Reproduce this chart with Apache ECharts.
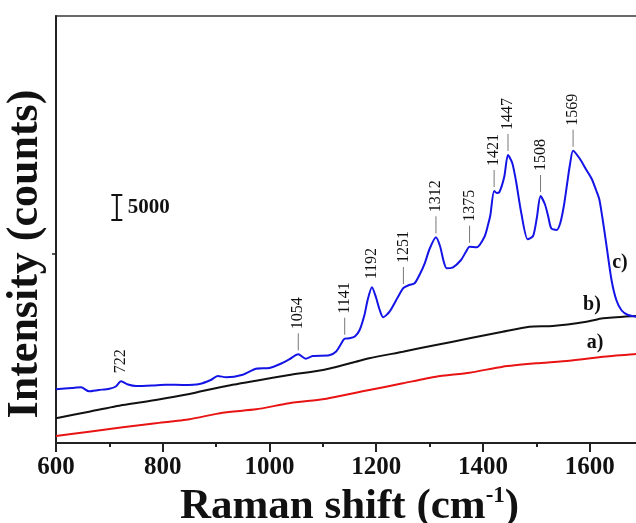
<!DOCTYPE html>
<html>
<head>
<meta charset="utf-8">
<script src="https://cdn.jsdelivr.net/npm/echarts@6/dist/echarts.min.js"></script>
<style>
  html, body { margin: 0; padding: 0; background: #fff; }
  #chart { width: 636px; height: 523px; }
</style>
</head>
<body>
<div id="chart"></div>
<script>
// Raman spectra: (a) red, (b) black, (c) blue with assigned bands
const seriesA = [
  [600,1400],[662,2260],[725,3140],[787,3940],[850,4740],[912,6060],[975,6740],
  [1037,7940],[1100,8740],[1125,9260],[1162,10060],[1187,10600],[1250,11940],
  [1312,13260],[1375,14060],[1437,15260],[1500,15940],[1562,16460],[1625,17260],
  [1687,17800],[1700,17900]
];
const seriesB = [
  [600,4940],[662,6260],[725,7600],[787,8600],[850,9800],[912,11260],[975,12460],
  [1037,13600],[1100,14600],[1162,16260],[1187,16940],[1250,18260],[1312,19600],
  [1375,20940],[1437,22260],[1487,23260],[1531,23400],[1594,24260],[1625,24940],
  [1687,25400],[1700,25450]
];
const seriesC = [
  [600,10740],[630,11000],[647,11140],[662,10340],[680,10600],[700,10860],[712,11300],
  [722,12340],[735,11700],[750,11400],[780,11500],[806,11660],[840,11600],[869,11800],
  [890,12600],[903,13400],[919,13140],[950,13660],[975,14860],[1000,15000],[1020,15800],
  [1037,16740],[1054,17740],[1068,16860],[1081,17400],[1112,17540],[1125,18300],
  [1134,19800],[1141,20860],[1150,20940],[1160,21300],[1169,22600],[1178,25600],
  [1184,28600],[1192,31140],[1200,29000],[1206,26800],[1213,25140],[1225,26260],
  [1241,29260],[1251,31000],[1262,31600],[1272,31940],[1282,33800],[1291,35940],
  [1300,38800],[1312,41140],[1320,39260],[1326,36500],[1332,34940],[1344,35140],
  [1359,36600],[1368,38200],[1375,39260],[1388,39140],[1403,41260],[1410,43800],
  [1414,45600],[1421,50400],[1426,50000],[1431,50200],[1440,53260],[1447,57600],
  [1455,56000],[1462,52400],[1472,45940],[1484,40740],[1494,41400],[1501,45000],
  [1508,49400],[1516,47800],[1522,45500],[1528,42940],[1538,42600],[1545,44000],
  [1552,47600],[1558,52000],[1563,55600],[1569,58460],[1581,56940],[1594,54600],
  [1604,52800],[1612,50600],[1618,48800],[1624,45000],[1631,39940],[1641,32600],
  [1650,28600],[1660,26500],[1672,25600],[1688,25260],[1700,25200]
];

// Band positions marked on spectrum (c); whether each has a leader line
const peakBands = [722, 1054, 1141, 1192, 1251, 1312, 1375, 1421, 1447, 1508, 1569];
const peakLeader = [false, true, true, false, true, true, true, true, true, true, true];

// Axis ticks
const xMajorTicks = [600, 800, 1000, 1200, 1400, 1600];
const xMinorTicks = [700, 900, 1100, 1300, 1500];
const yTicks = [37800];

// Intensity scale bar (counts)
const scaleBarX = 714;
const scaleBarBase = 44600;
const scaleBarSize = 5000;

const SERIF = '"Liberation Serif", "Times New Roman", serif';

const lookupC = {};
seriesC.forEach(function (p) { lookupC[p[0]] = p[1]; });

const chart = echarts.init(document.getElementById('chart'), null, { renderer: 'canvas' });

const option = {
  backgroundColor: '#ffffff',
  animation: false,
  grid: {
    left: 56, top: 16, right: -7, bottom: 80,
    show: true, borderColor: '#3a3a3a', borderWidth: 1.5,
    containLabel: false, outerBoundsMode: 'none'
  },
  xAxis: [
    {
      type: 'value', min: 600, max: 1700, position: 'bottom',
      axisLine: { show: true, onZero: false, lineStyle: { color: '#222', width: 2 } },
      axisTick: { show: true, inside: false, length: 9, customValues: xMajorTicks,
                  lineStyle: { color: '#222', width: 2 } },
      axisLabel: { customValues: xMajorTicks, margin: 12, color: '#111',
                   fontFamily: SERIF, fontSize: 25, fontWeight: 'bold',
                   formatter: function (v) { return String(v); } },
      splitLine: { show: false },
      name: '{t|Raman shift (cm}{s|-1}{t|)}',
      nameLocation: 'middle', nameGap: 30,
      nameTextStyle: {
        rich: {
          t: { fontFamily: SERIF, fontSize: 43, fontWeight: 'bold', color: '#111' },
          s: { fontFamily: SERIF, fontSize: 23, fontWeight: 'bold', color: '#111', padding: [0, 0, 20, 0] }
        }
      }
    },
    {
      type: 'value', min: 600, max: 1700, position: 'bottom',
      axisLine: { show: false, onZero: false },
      axisTick: { show: true, inside: false, length: 4, customValues: xMinorTicks,
                  lineStyle: { color: '#222', width: 2 } },
      axisLabel: { show: false },
      splitLine: { show: false }
    }
  ],
  yAxis: {
    type: 'value', min: 0, max: 85400,
    axisLine: { show: true, onZero: false, lineStyle: { color: '#222', width: 2 } },
    axisTick: { show: true, inside: false, length: 4, customValues: yTicks,
                lineStyle: { color: '#222', width: 1.5 } },
    axisLabel: { show: false },
    splitLine: { show: false }
  },
  series: [
    {
      name: 'a)', type: 'line', data: seriesA, showSymbol: false, smooth: 0.2,
      lineStyle: { color: '#e81414', width: 2 }, z: 3
    },
    {
      name: 'b)', type: 'line', data: seriesB, showSymbol: false, smooth: 0.2,
      lineStyle: { color: '#111111', width: 2 }, z: 4
    },
    {
      name: 'c)', type: 'line', data: seriesC, showSymbol: false, smooth: 0.25,
      lineStyle: { color: '#1414e6', width: 2 }, z: 5
    },
    {
      // band labels with leader lines above spectrum (c)
      type: 'custom', z: 6, clip: false,
      data: peakBands.map(function (w, i) { return [w, lookupC[w], peakLeader[i] ? 1 : 0]; }),
      renderItem: function (params, api) {
        const w = api.value(0);
        const p = api.coord([w, api.value(1)]);
        const children = [];
        let base = p[1] - 8;
        if (api.value(2)) {
          children.push({
            type: 'line',
            shape: { x1: p[0], y1: p[1] - 4, x2: p[0], y2: p[1] - 21 },
            style: { stroke: '#777', lineWidth: 1 }
          });
          base = p[1] - 25;
        }
        children.push({
          type: 'text', x: p[0], y: base, rotation: Math.PI / 2,
          style: { text: String(w), align: 'left', verticalAlign: 'middle',
                   font: '16px ' + SERIF, fill: '#111' }
        });
        return { type: 'group', children: children };
      }
    },
    {
      // intensity scale bar
      type: 'custom', z: 6, clip: false,
      data: [[scaleBarX, scaleBarBase, scaleBarBase + scaleBarSize]],
      renderItem: function (params, api) {
        const p1 = api.coord([api.value(0), api.value(1)]);
        const p2 = api.coord([api.value(0), api.value(2)]);
        const x = p1[0];
        const st = { stroke: '#111', lineWidth: 2 };
        return {
          type: 'group',
          children: [
            { type: 'line', shape: { x1: x, y1: p1[1], x2: x, y2: p2[1] }, style: st },
            { type: 'line', shape: { x1: x - 5.5, y1: p1[1], x2: x + 5.5, y2: p1[1] }, style: st },
            { type: 'line', shape: { x1: x - 5.5, y1: p2[1], x2: x + 5.5, y2: p2[1] }, style: st },
            { type: 'text', x: x + 11, y: (p1[1] + p2[1]) / 2,
              style: { text: String(scaleBarSize), align: 'left', verticalAlign: 'middle',
                       font: 'bold 21px ' + SERIF, fill: '#111' } }
          ]
        };
      }
    }
  ],
  graphic: [
    { type: 'text', x: 26, y: 254, rotation: Math.PI / 2,
      style: { text: 'Intensity (counts)', align: 'center', verticalAlign: 'middle',
               font: 'bold 44px ' + SERIF, fill: '#111' } },
    { type: 'text', x: 620, y: 263, style: { text: 'c)', align: 'center', verticalAlign: 'middle', font: 'bold 20px ' + SERIF, fill: '#111' } },
    { type: 'text', x: 592, y: 305, style: { text: 'b)', align: 'center', verticalAlign: 'middle', font: 'bold 20px ' + SERIF, fill: '#111' } },
    { type: 'text', x: 595, y: 343, style: { text: 'a)', align: 'center', verticalAlign: 'middle', font: 'bold 20px ' + SERIF, fill: '#111' } }
  ]
};

chart.setOption(option);
</script>
</body>
</html>
